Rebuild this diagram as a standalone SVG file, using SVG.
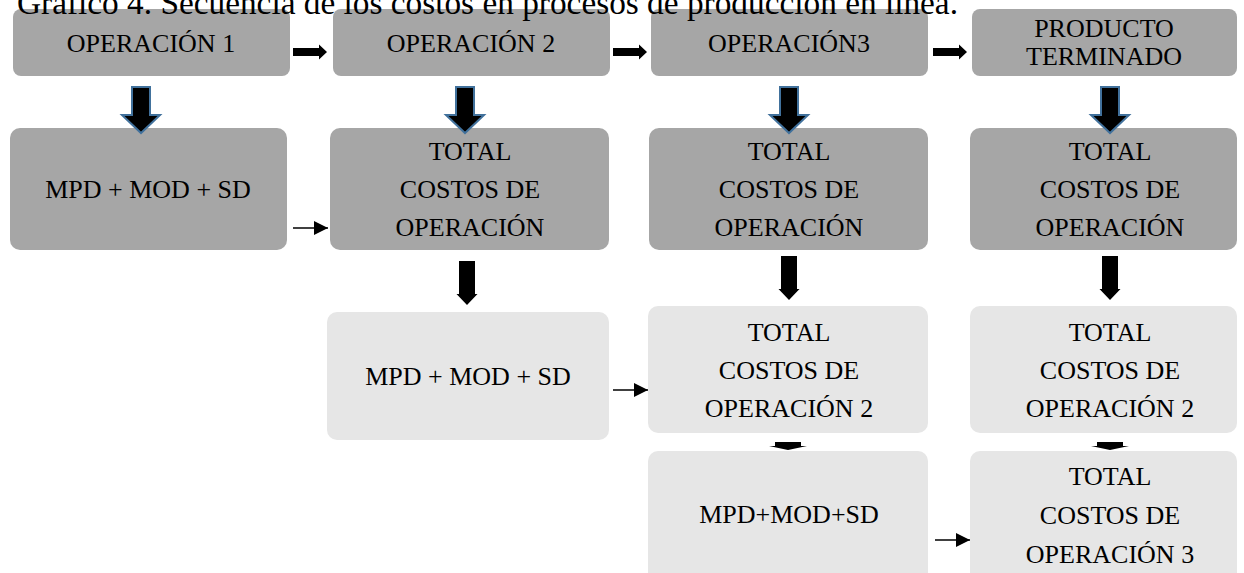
<svg xmlns="http://www.w3.org/2000/svg" width="1244" height="573" viewBox="0 0 1244 573">
  <style>
    .dark { fill: #a6a6a6; }
    .light { fill: #e6e6e6; }
    text { font-family: "Liberation Serif", "Times New Roman", serif; font-size: 26px; fill: #000; text-anchor: middle; }
    .title { font-size: 33px; text-anchor: start; }
    .fat { fill: #000; stroke: #41719c; stroke-width: 2; }
    .solid { fill: #000; }
    .thin { stroke: #000; stroke-width: 1.5; fill: none; }
  </style>
  <defs>
    <marker id="tri" viewBox="0 0 14 14" refX="14" refY="7" markerWidth="14" markerHeight="14" markerUnits="userSpaceOnUse" orient="auto">
      <path d="M0,0 L14,7 L0,14 Z" fill="#000"/>
    </marker>
    <!-- wide down arrow with blue outline, tip at (0,0) -->
    <path id="fatDown" d="M-9,-46 L9,-46 L9,-18 L19,-18 L0,0 L-19,-18 L-9,-18 Z"/>
    <!-- small solid down arrow, tip at (0,0) -->
    <path id="solidDown" d="M-8,-44 L8,-44 L8,-11 L10.5,-11 L0,0 L-10.5,-11 L-8,-11 Z"/>
    <!-- short horizontal block arrow, tip at (0,0) -->
    <path id="blockRight" d="M-34,-4 L-8,-4 L-8,-7.5 L0,0 L-8,7.5 L-8,4 L-34,4 Z"/>
  </defs>

  <!-- row 1: operations -->
  <g id="op1"><rect class="dark" x="13" y="9" width="277" height="67" rx="8"/><text x="151" y="52">OPERACIÓN 1</text></g>
  <g id="op2"><rect class="dark" x="333" y="9" width="277" height="67" rx="8"/><text x="471" y="52">OPERACIÓN 2</text></g>
  <g id="op3"><rect class="dark" x="651" y="9" width="277" height="67" rx="8"/><text x="789" y="52">OPERACIÓN3</text></g>
  <g id="producto"><rect class="dark" x="972" y="9" width="265" height="67" rx="8"/><text x="1104" y="37">PRODUCTO</text><text x="1104" y="65">TERMINADO</text></g>

  <text class="title" x="17" y="14" textLength="941" lengthAdjust="spacingAndGlyphs">Gráfico 4. Secuencia de los costos en procesos de producción en línea.</text>

  <!-- row 2 -->
  <g id="c1"><rect class="dark" x="10" y="128" width="277" height="122" rx="10"/><text x="148" y="198">MPD + MOD + SD</text></g>
  <g id="c2"><rect class="dark" x="330" y="128" width="279" height="122" rx="10"/><text x="470" y="160">TOTAL</text><text x="470" y="198">COSTOS DE</text><text x="470" y="236">OPERACIÓN</text></g>
  <g id="c3"><rect class="dark" x="649" y="128" width="279" height="122" rx="10"/><text x="789" y="160">TOTAL</text><text x="789" y="198">COSTOS DE</text><text x="789" y="236">OPERACIÓN</text></g>
  <g id="c4"><rect class="dark" x="970" y="128" width="267" height="122" rx="10"/><text x="1110" y="160">TOTAL</text><text x="1110" y="198">COSTOS DE</text><text x="1110" y="236">OPERACIÓN</text></g>

  <!-- row 3 -->
  <g id="d2"><rect class="light" x="327" y="312" width="282" height="128" rx="10"/><text x="468" y="385">MPD + MOD + SD</text></g>
  <g id="d3"><rect class="light" x="648" y="306" width="280" height="127" rx="10"/><text x="789" y="341">TOTAL</text><text x="789" y="379">COSTOS DE</text><text x="789" y="417">OPERACIÓN 2</text></g>
  <g id="d4"><rect class="light" x="970" y="306" width="267" height="127" rx="10"/><text x="1110" y="341">TOTAL</text><text x="1110" y="379">COSTOS DE</text><text x="1110" y="417">OPERACIÓN 2</text></g>

  <!-- row 4 -->
  <g id="e3"><rect class="light" x="648" y="451" width="280" height="135" rx="10"/><text x="789" y="523">MPD+MOD+SD</text></g>
  <g id="e4"><rect class="light" x="970" y="451" width="267" height="135" rx="10"/><text x="1110" y="485">TOTAL</text><text x="1110" y="524">COSTOS DE</text><text x="1110" y="563">OPERACIÓN 3</text></g>

  <g id="connectors">
    <!-- row 1 block arrows -->
    <use href="#blockRight" class="solid" x="327" y="52"/>
    <use href="#blockRight" class="solid" x="647" y="52"/>
    <use href="#blockRight" class="solid" x="967" y="52"/>
    <!-- row 1 to row 2 -->
    <use href="#fatDown" class="fat" x="141" y="133"/>
    <use href="#fatDown" class="fat" x="465" y="133"/>
    <use href="#fatDown" class="fat" x="789" y="133"/>
    <use href="#fatDown" class="fat" x="1110" y="133"/>
    <!-- row 2 to row 3 -->
    <use href="#solidDown" class="solid" x="467" y="305"/>
    <use href="#solidDown" class="solid" x="789" y="300"/>
    <use href="#solidDown" class="solid" x="1110" y="300"/>
    <!-- flattened arrows row 3 to row 4 -->
    <path class="solid" d="M775,442 L801,442 L801,446 L807,446 L788,450 L769,446 L775,446 Z"/>
    <path class="solid" d="M1097,442 L1123,442 L1123,446 L1129,446 L1110,450 L1091,446 L1097,446 Z"/>
    <!-- thin side arrows -->
    <line class="thin" x1="293" y1="228" x2="328" y2="228" marker-end="url(#tri)"/>
    <line class="thin" x1="613" y1="390" x2="648" y2="390" marker-end="url(#tri)"/>
    <line class="thin" x1="935" y1="540" x2="970" y2="540" marker-end="url(#tri)"/>
  </g>
</svg>
